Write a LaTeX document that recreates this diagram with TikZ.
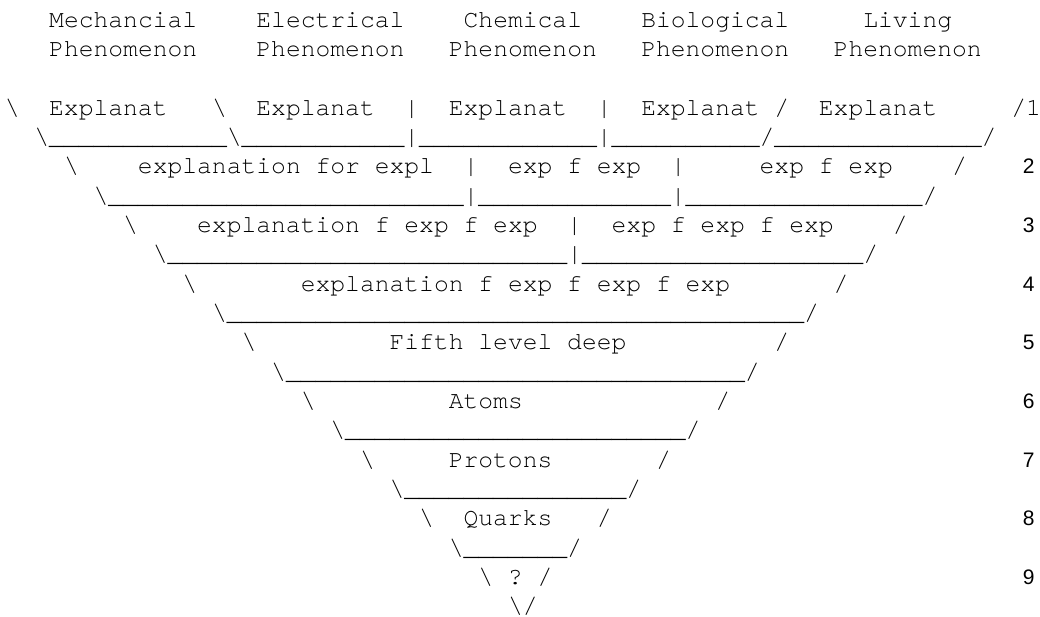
\documentclass[tikz,border=0pt]{standalone}
\usepackage{fontspec}
\setmonofont{TeX Gyre Cursor}
\newfontfamily\digitfont{Liberation Sans}
\usetikzlibrary{positioning}

% one column of the text grid, and repeated characters
\newcommand{\bsl}{\textbackslash}
\newcommand{\gap}[1]{\foreach\k in {1,...,#1}{~}}
\newcommand{\unds}[1]{\foreach\k in {1,...,#1}{\_}}

\begin{document}
\begin{tikzpicture}[
            x=14.8pt, y=29.35pt,
            row/.style={anchor=base west, inner sep=0pt, font=\ttfamily\fontsize{24.67pt}{29.35pt}\selectfont},
            lvl/.style={anchor=base, inner sep=0pt, font=\digitfont\fontsize{21pt}{25pt}\selectfont}
        ]
            \useasboundingbox (-0.311,0.92) rectangle (69.96,-20.102);

            % --- HEADINGS ---
            \node[row] (head) at (0,0) {\gap{3}Mechancial\gap{4}Electrical\gap{4}Chemical\gap{4}Biological\gap{5}Living};
            \node[row] (phen) at (0,-1) {\gap{3}Phenomenon\gap{4}Phenomenon\gap{3}Phenomenon\gap{3}Phenomenon\gap{3}Phenomenon};

            % --- FUNNEL ---
            \node[row] (r0) at (0,-3) {\bsl\gap{2}Explanat\gap{3}\bsl\gap{2}Explanat\gap{2}|\gap{2}Explanat\gap{2}|\gap{2}Explanat\gap{1}/\gap{2}Explanat\gap{5}/1};
            \node[row] (u0) at (2,-4) {\bsl\unds{12}\bsl\unds{11}|\unds{12}|\unds{10}/\unds{14}/};
            \node[row] (r1) at (4,-5) {\bsl\gap{4}explanation for expl\gap{2}|\gap{2}exp f exp\gap{2}|\gap{5}exp f exp\gap{4}/};
            \node[row] (u1) at (6,-6) {\bsl\unds{24}|\unds{13}|\unds{16}/};
            \node[row] (r2) at (8,-7) {\bsl\gap{4}explanation f exp f exp\gap{2}|\gap{2}exp f exp f exp\gap{4}/};
            \node[row] (u2) at (10,-8) {\bsl\unds{27}|\unds{19}/};
            \node[row] (r3) at (12,-9) {\bsl\gap{7}explanation f exp f exp f exp\gap{7}/};
            \node[row] (u3) at (14,-10) {\bsl\unds{39}/};
            \node[row] (r4) at (16,-11) {\bsl\gap{9}Fifth level deep\gap{10}/};
            \node[row] (u4) at (18,-12) {\bsl\unds{31}/};
            \node[row] (r5) at (20,-13) {\bsl\gap{9}Atoms\gap{13}/};
            \node[row] (u5) at (22,-14) {\bsl\unds{23}/};
            \node[row] (r6) at (24,-15) {\bsl\gap{5}Protons\gap{7}/};
            \node[row] (u6) at (26,-16) {\bsl\unds{15}/};
            \node[row] (r7) at (28,-17) {\bsl\gap{2}Quarks\gap{3}/};
            \node[row] (u7) at (30,-18) {\bsl\unds{7}/};
            \node[row] (r8) at (32,-19) {\bsl\gap{1}?\gap{1}/};
            \node[row] (tip) at (34,-20) {\bsl/};

            % --- LEVEL NUMBERS ---
            \foreach \n/\l in {2/5, 3/7, 4/9, 5/11, 6/13, 7/15, 8/17, 9/19}
                \node[lvl] (lvl\n) at (69.2,-\l) {\n};

        \end{tikzpicture}
\end{document}
